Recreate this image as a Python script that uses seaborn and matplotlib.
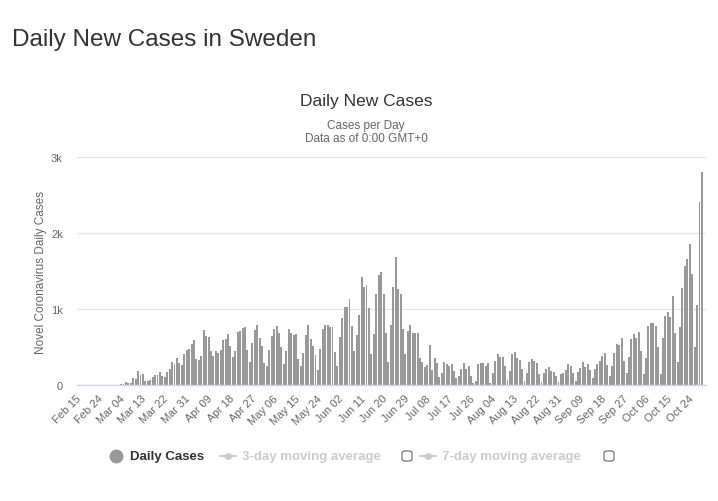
import numpy as np
import pandas as pd
import matplotlib.pyplot as plt
import matplotlib.patches as mpatches
import matplotlib.transforms as mtransforms
from matplotlib.lines import Line2D
import seaborn as sns

# daily new cases in Sweden, one value per day from Feb 15
cases = [
    0, 0, 0, 0, 0, 0, 0, 0, 0, 0, 1, 5, 2, 3, 1, 0, 7,
    13, 13, 40, 26, 22, 92, 79, 184, 132, 145, 57, 57, 66, 110, 132, 132,
    171, 123, 110, 175, 211, 303, 277, 356, 290, 263, 408, 465, 478, 540,
    597, 347, 329, 382,
    724, 650, 632, 448, 386, 448, 426, 461, 593, 606, 672, 514, 369, 448,
    694, 711, 746, 764, 461, 298, 549, 724, 790, 619, 514, 290, 255, 461,
    645, 738, 777, 689, 500, 272, 448, 738, 685, 658, 672, 342, 255, 421,
    658, 790, 601, 514, 395, 202, 474, 738, 790,
    790, 759, 759, 430, 255, 628, 882, 1027, 1027, 1133, 773, 452, 659, 922,
    1422, 1286, 1317, 1018, 408, 672, 1198, 1449, 1488, 1198, 689, 303, 790,
    1295, 1686, 1264, 1203, 738, 408, 711, 790, 680, 680, 689, 360, 299,
    237, 263, 527, 198, 356, 290, 101, 158, 307, 277, 250, 277, 189,
    97, 119, 211, 290, 211, 250, 119, 26, 53, 277, 290, 290, 255, 290, 26,
    158, 316, 408, 369, 369, 255, 70, 184, 408, 435, 356, 329, 211, 53, 158,
    303, 342, 316, 290, 145, 40, 158, 211, 237, 184, 171, 119, 40, 145, 158,
    198, 277, 250, 158, 53, 171,
    224, 303, 237, 277, 198, 92, 211, 277, 316, 382, 421, 263, 123, 250,
    421, 540, 527, 619, 316, 158, 369, 606, 672, 619, 698, 448, 145, 356,
    777, 817, 817, 777, 500, 145, 619, 909, 961, 896, 1172, 685, 307, 764,
    1277, 1567, 1659, 1857, 1462, 500, 1054, 2410, 2805,
]
y_ticks = [0, 1000, 2000, 3000]
y_tick_labels = ['0', '1k', '2k', '3k']
tick_step = 9

dates = pd.date_range('2020-02-15', periods=len(cases), freq='D')
df = pd.DataFrame({'day': np.arange(len(cases)), 'cases': cases})

sns.set_theme(style='white')
plt.rcParams['font.family'] = ['Liberation Sans', 'DejaVu Sans']

fig = plt.figure(figsize=(7.18, 5.02), dpi=100)
ax = fig.add_axes([0.107, 0.231, 0.876, 0.454])

sns.barplot(data=df, x='day', y='cases', color='#999999', width=0.8,
            saturation=1, edgecolor='none', ax=ax)

ax.set_xlim(-1.2, len(cases) + 0.6)
ax.set_ylim(0, 3000)
ax.set_yticks(y_ticks)
ax.set_yticklabels(y_tick_labels, color='#666666', fontsize=8)
ticks = list(range(0, len(cases), tick_step))
ax.set_xticks(ticks)
ax.set_xticklabels([])
# rotated date labels, nudged a bit left/down like the highcharts ones
offset = mtransforms.ScaledTranslation(-0.04, -0.08, fig.dpi_scale_trans)
for i in ticks:
    ax.text(i, 0, dates[i].strftime('%b %d'), rotation=45, ha='right',
            va='top', rotation_mode='anchor', color='#666666', fontsize=8,
            transform=ax.get_xaxis_transform() + offset)
ax.tick_params(axis='x', length=0)
ax.tick_params(axis='y', length=0, pad=10)
ax.set_xlabel('')
ax.set_ylabel('Novel Coronavirus Daily Cases', color='#666666', fontsize=8.5,
              labelpad=3)
ax.grid(axis='y', color='#e6e6e6', linewidth=1)
ax.set_axisbelow(True)
for side in ['top', 'right', 'left']:
    ax.spines[side].set_visible(False)
ax.spines['bottom'].set_color('#ccd6eb')
ax.spines['bottom'].set_linewidth(1)

# titles
fig.text(0.017, 0.92, 'Daily New Cases in Sweden', fontsize=17.5,
         color='#333333', va='center')
fig.text(0.51, 0.798, 'Daily New Cases', fontsize=12.5, color='#333333',
         ha='center', va='center')
fig.text(0.51, 0.749, 'Cases per Day', fontsize=8.5, color='#666666',
         ha='center', va='center')
fig.text(0.51, 0.723, 'Data as of 0:00 GMT+0', fontsize=8.5, color='#666666',
         ha='center', va='center')

# legend row (drawn by hand to match the original layout)
ly = 1 - 457 / 502
fig.add_artist(Line2D([116 / 718], [ly], marker='o', markersize=9,
                      color='#999999', transform=fig.transFigure))
fig.text(130 / 718, ly, 'Daily Cases', fontsize=9.5, fontweight='bold',
         color='#333333', va='center')
for x0, label, box_x in [(220, '3-day moving average', 407),
                         (420, '7-day moving average', 609)]:
    fig.add_artist(Line2D([x0 / 718, (x0 + 16) / 718], [ly, ly],
                          color='#cccccc', linewidth=1.5,
                          transform=fig.transFigure))
    fig.add_artist(Line2D([(x0 + 8) / 718], [ly], marker='o', markersize=4,
                          color='#cccccc', transform=fig.transFigure))
    fig.text((x0 + 22) / 718, ly, label, fontsize=9.5, fontweight='bold',
             color='#cccccc', va='center')
    fig.add_artist(mpatches.FancyBboxPatch(
        ((box_x - 5) / 718, ly - 5 / 502), 10 / 718, 10 / 502,
        boxstyle='round,pad=0,rounding_size=0.004', facecolor='white',
        edgecolor='#666666', linewidth=0.8, transform=fig.transFigure))

fig.savefig('out.png', dpi=100)
plt.close()
